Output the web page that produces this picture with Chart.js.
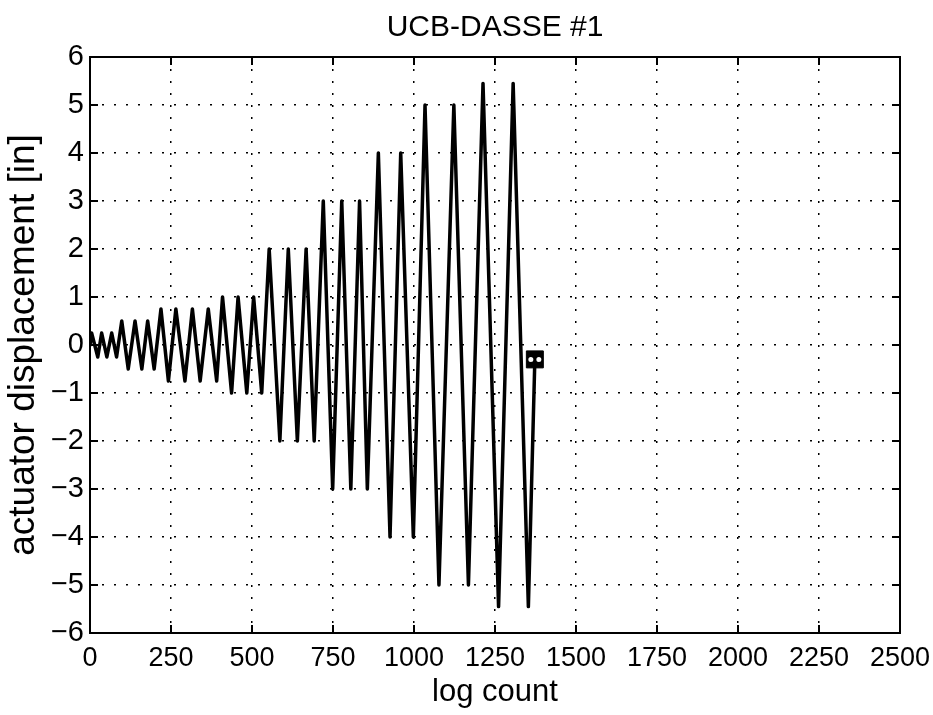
<!DOCTYPE html>
<html lang="en">
<head>
  <meta charset="UTF-8">
  <title>UCB-DASSE #1</title>
  <script src="https://cdn.jsdelivr.net/npm/chart.js"></script>
  <style>
    html, body { margin: 0; padding: 0; background: #fff; }
    #wrap { width: 933px; height: 715px; }
  </style>
</head>
<body>
  <div id="wrap"><canvas id="chart" width="933" height="715"></canvas></div>

  <script>
    // peaks / troughs of the displacement history
    const logCount = [0, 5, 24, 36, 52, 67, 82,
      98, 118, 139, 160, 178, 198,
      219, 242, 265, 293, 316, 340, 365, 391,
      409, 437, 457, 484, 505, 530,
      553, 586, 612, 640, 667, 692,
      720, 749, 777, 805, 832, 856,
      890, 926, 959, 998,
      1034, 1077, 1123, 1168,
      1213, 1261, 1306, 1353,
      1373];
    const displacement = [0, 0.25, -0.25, 0.25, -0.25, 0.25, -0.25,
      0.5, -0.5, 0.5, -0.5, 0.5, -0.5,
      0.75, -0.75, 0.75, -0.75, 0.75, -0.75, 0.75, -0.75,
      1, -1, 1, -1, 1, -1,
      2, -2, 2, -2, 2, -2,
      3, -3, 3, -3, 3, -3,
      4, -4, 4, -4,
      5, -5, 5, -5,
      5.45, -5.45, 5.45, -5.45,
      -0.3];
    const xTicks = [0, 250, 500, 750, 1000, 1250, 1500, 1750, 2000, 2250, 2500];
    const yTicks = [-6, -5, -4, -3, -2, -1, 0, 1, 2, 3, 4, 5, 6];

    const FONT = "'Liberation Sans', Arial, sans-serif";

    const points = logCount.map((x, i) => ({ x: x, y: displacement[i] }));
    const last = points[points.length - 1];

    const fmt = v => (v < 0 ? '\u2212' + Math.abs(v) : String(v));

    // matlab style box with inward ticks
    const boxPlugin = {
      id: 'box',
      afterDraw(chart) {
        const { ctx, chartArea: a, scales } = chart;
        ctx.save();
        ctx.strokeStyle = '#000';
        ctx.lineWidth = 2;
        ctx.strokeRect(a.left, a.top, a.right - a.left, a.bottom - a.top);
        ctx.beginPath();
        xTicks.forEach(v => {
          const px = scales.x.getPixelForValue(v);
          ctx.moveTo(px, a.bottom); ctx.lineTo(px, a.bottom - 8);
          ctx.moveTo(px, a.top); ctx.lineTo(px, a.top + 8);
        });
        yTicks.forEach(v => {
          const py = scales.y.getPixelForValue(v);
          ctx.moveTo(a.left, py); ctx.lineTo(a.left + 8, py);
          ctx.moveTo(a.right, py); ctx.lineTo(a.right - 8, py);
        });
        ctx.stroke();
        // the end marker: a black square with two white dots
        const p = chart.getDatasetMeta(1).data[0];
        if (p) {
          ctx.fillStyle = '#fff';
          ctx.beginPath();
          ctx.arc(p.x - 4, p.y, 2.5, 0, Math.PI * 2);
          ctx.arc(p.x + 4, p.y, 2.5, 0, Math.PI * 2);
          ctx.fill();
        }
        ctx.restore();
      }
    };

    new Chart(document.getElementById('chart'), {
      type: 'line',
      data: {
        datasets: [{
          data: points,
          borderColor: '#000',
          borderWidth: 3.5,
          borderJoinStyle: 'round',
          borderCapStyle: 'round',
          pointRadius: 0,
          tension: 0
        }, {
          data: [last],
          showLine: false,
          pointStyle: 'rect',
          pointRadius: 12,
          backgroundColor: '#000',
          borderColor: '#000'
        }]
      },
      options: {
        responsive: false,
        animation: false,
        layout: { padding: { right: 33 } },
        plugins: {
          legend: { display: false },
          tooltip: { enabled: false },
          title: {
            display: true,
            fullSize: false,
            text: 'UCB-DASSE #1',
            color: '#000',
            font: { family: FONT, size: 30, weight: 'normal' },
            padding: { top: 10, bottom: 11 }
          }
        },
        scales: {
          x: {
            type: 'linear',
            min: 0,
            max: 2500,
            afterBuildTicks: s => { s.ticks = xTicks.map(v => ({ value: v })); },
            afterFit: s => { s.height = 82; s.paddingLeft = 0; s.paddingRight = 0; },
            grid: { color: '#000', lineWidth: 1.5, drawTicks: false },
            border: { display: false, dash: [2, 10] },
            ticks: {
              color: '#000', padding: 9, maxRotation: 0, autoSkip: false,
              font: { family: FONT, size: 27 }, callback: v => fmt(v)
            },
            title: {
              display: true, text: 'log count', color: '#000',
              font: { family: FONT, size: 31 }, padding: { top: 0, bottom: 4 }
            }
          },
          y: {
            min: -6,
            max: 6,
            afterBuildTicks: s => { s.ticks = yTicks.map(v => ({ value: v })); },
            afterFit: s => { s.width = 90; },
            grid: { color: '#000', lineWidth: 1.5, drawTicks: false },
            border: { display: false, dash: [2, 10] },
            ticks: {
              color: '#000', padding: 6, autoSkip: false,
              font: { family: FONT, size: 29 }, callback: v => fmt(v)
            },
            title: {
              display: true, text: 'actuator displacement [in]', color: '#000',
              font: { family: FONT, size: 37 }, padding: { top: 2, bottom: 0 }
            }
          }
        }
      },
      plugins: [boxPlugin]
    });
  </script>
</body>
</html>
